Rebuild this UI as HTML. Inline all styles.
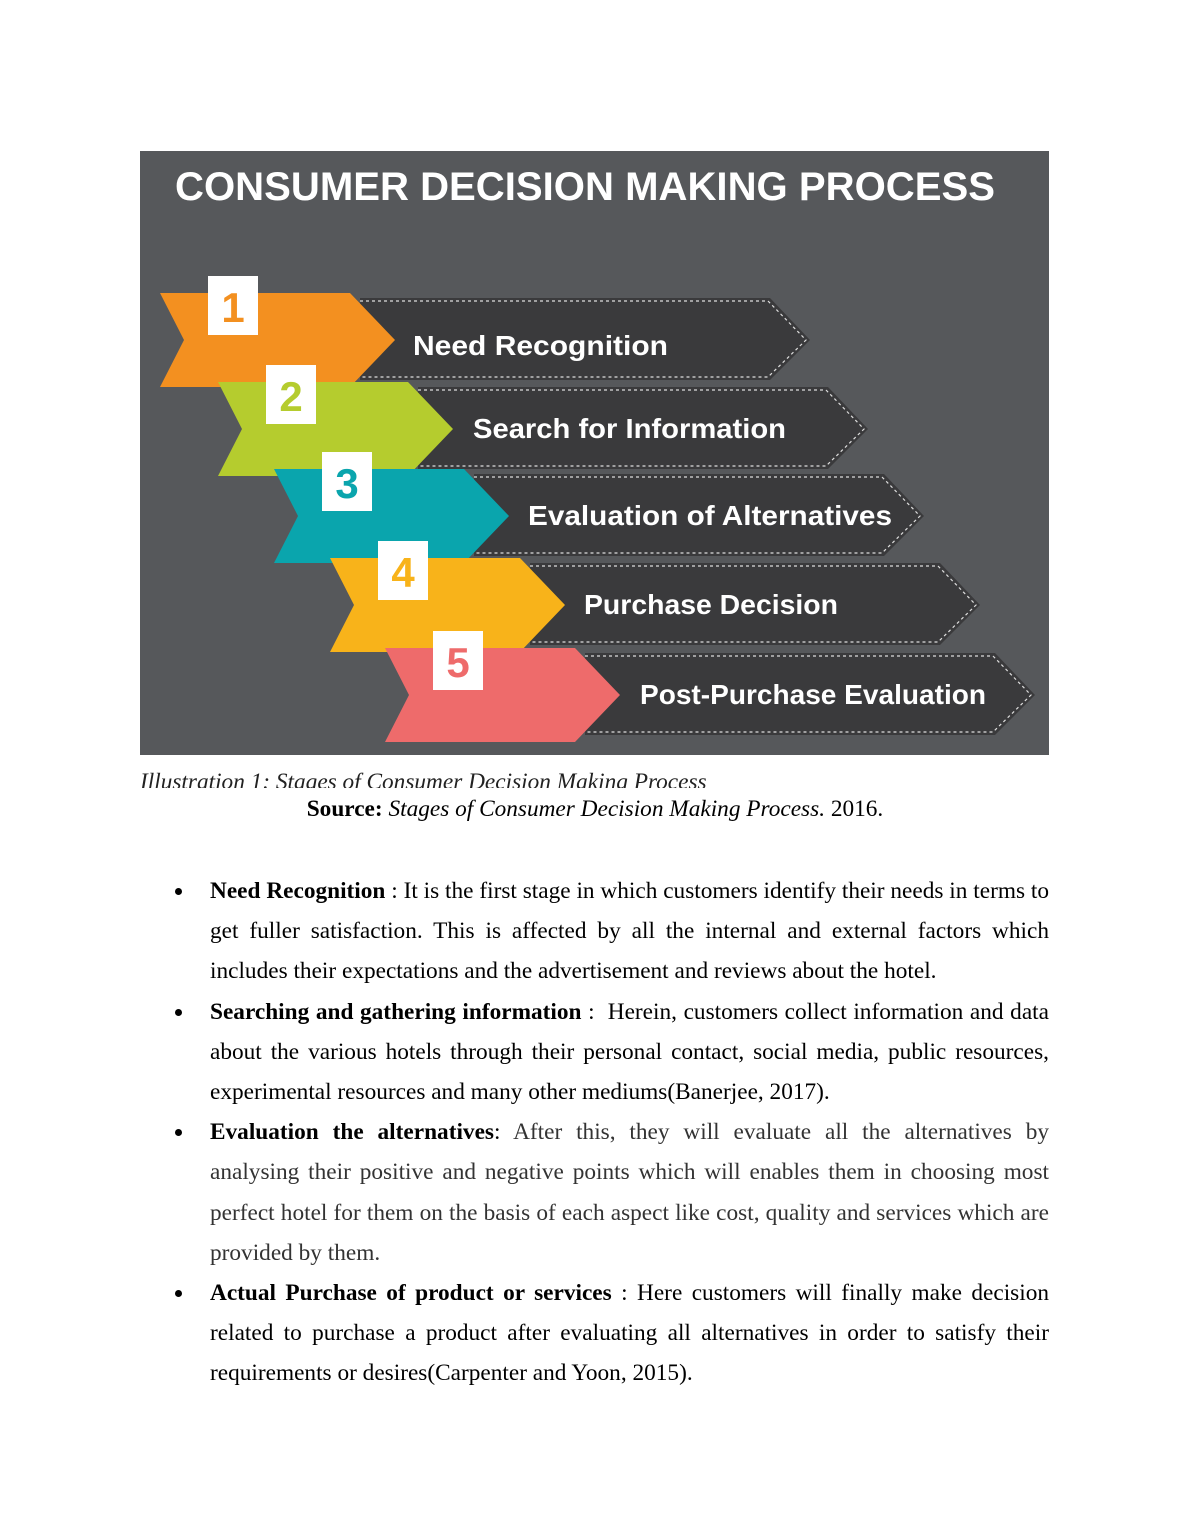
<!DOCTYPE html>
<html><head><meta charset="utf-8"><style>
body{margin:0;background:#fff;width:1190px;height:1540px;position:relative;font-family:"Liberation Serif",serif;color:#000}
svg{position:absolute;left:140px;top:151px}
.cap{position:absolute;left:140px;top:767px;height:21px;overflow:hidden;font-style:italic;font-size:23.3px;color:#222;line-height:30px}
.src{position:absolute;left:0;width:1190px;top:796px;text-align:center;font-size:23.3px}
ul{position:absolute;left:210px;top:871px;width:839px;margin:0;padding:0;list-style:none;font-size:23.3px;line-height:40.2px;text-align:justify}
li{position:relative}
li:before{content:"";position:absolute;left:-35px;top:17px;width:7px;height:7px;border-radius:50%;background:#000}
.g{color:#333}
</style></head><body>
<svg width="909" height="604" viewBox="140 151 909 604">
<rect x="140" y="151" width="909" height="604" fill="#56585b"/>
<text x="585" y="200" text-anchor="middle" fill="#fff" font-family="Liberation Sans,sans-serif" font-weight="bold" font-size="40" textLength="820" lengthAdjust="spacingAndGlyphs">CONSUMER DECISION MAKING PROCESS</text>
<defs>
<g id="row">
<polygon points="360,298 770,298 810,340 770,380 360,380" fill="#3a3a3c"/>
<polyline points="360,301 768,301 806,340 768,377 360,377" fill="none" stroke="#ddd" stroke-width="1.2" stroke-dasharray="3,3"/>
</g>
</defs>
<g><use href="#row"/><polygon points="160,293 350,293 395,340 350,387 160,387 184,340" fill="#f39020"/><rect x="208" y="276" width="50" height="59" fill="#fff"/><text x="233" y="322" text-anchor="middle" font-family="Liberation Sans,sans-serif" font-size="42" font-weight="bold" fill="#f39020">1</text><text x="413" y="355" fill="#fff" font-family="Liberation Sans,sans-serif" font-size="28" font-weight="bold" textLength="255" lengthAdjust="spacingAndGlyphs">Need Recognition</text></g>
<g transform="translate(58,89)"><use href="#row"/><polygon points="160,293 350,293 395,340 350,387 160,387 184,340" fill="#b5cc2e"/><rect x="208" y="276" width="50" height="59" fill="#fff"/><text x="233" y="322" text-anchor="middle" font-family="Liberation Sans,sans-serif" font-size="42" font-weight="bold" fill="#b5cc2e">2</text><text x="415" y="349" fill="#fff" font-family="Liberation Sans,sans-serif" font-size="28" font-weight="bold" textLength="313" lengthAdjust="spacingAndGlyphs">Search for Information</text></g>
<g transform="translate(114,176)"><use href="#row"/><polygon points="160,293 350,293 395,340 350,387 160,387 184,340" fill="#0aa5ad"/><rect x="208" y="276" width="50" height="59" fill="#fff"/><text x="233" y="322" text-anchor="middle" font-family="Liberation Sans,sans-serif" font-size="42" font-weight="bold" fill="#0aa5ad">3</text><text x="414" y="349" fill="#fff" font-family="Liberation Sans,sans-serif" font-size="28" font-weight="bold" textLength="364" lengthAdjust="spacingAndGlyphs">Evaluation of Alternatives</text></g>
<g transform="translate(170,265)"><use href="#row"/><polygon points="160,293 350,293 395,340 350,387 160,387 184,340" fill="#f8b31a"/><rect x="208" y="276" width="50" height="59" fill="#fff"/><text x="233" y="322" text-anchor="middle" font-family="Liberation Sans,sans-serif" font-size="42" font-weight="bold" fill="#f8b31a">4</text><text x="414" y="349" fill="#fff" font-family="Liberation Sans,sans-serif" font-size="28" font-weight="bold" textLength="254" lengthAdjust="spacingAndGlyphs">Purchase Decision</text></g>
<g transform="translate(225,355)"><use href="#row"/><polygon points="160,293 350,293 395,340 350,387 160,387 184,340" fill="#ee6b6b"/><rect x="208" y="276" width="50" height="59" fill="#fff"/><text x="233" y="322" text-anchor="middle" font-family="Liberation Sans,sans-serif" font-size="42" font-weight="bold" fill="#ee6b6b">5</text><text x="415" y="349" fill="#fff" font-family="Liberation Sans,sans-serif" font-size="28" font-weight="bold" textLength="346" lengthAdjust="spacingAndGlyphs">Post-Purchase Evaluation</text></g>
</svg>
<div class="cap">Illustration 1: Stages of Consumer Decision Making Process</div>
<div class="src"><b>Source:</b> <i>Stages of Consumer Decision Making Process.</i> 2016.</div>
<ul>
<li><b>Need Recognition</b> : It is the first stage in which customers identify their needs in terms to get fuller satisfaction. This is affected by all the internal and external factors which includes their expectations and the advertisement and reviews about the hotel.</li>
<li><b>Searching and gathering information</b> : &nbsp;Herein, customers collect information and data about the various hotels through their personal contact, social media, public resources, experimental resources and many other mediums(Banerjee, 2017).</li>
<li><b>Evaluation the alternatives</b>: <span class="g">After this, they will evaluate all the alternatives by analysing their positive and negative points which will enables them in choosing most perfect hotel for them on the basis of each aspect like cost, quality and services which are provided by them.</span></li>
<li><b>Actual Purchase of product or services</b> : Here customers will finally make decision related to purchase a product after evaluating all alternatives in order to satisfy their requirements or desires(Carpenter and Yoon, 2015).</li>
</ul>
</body></html>
